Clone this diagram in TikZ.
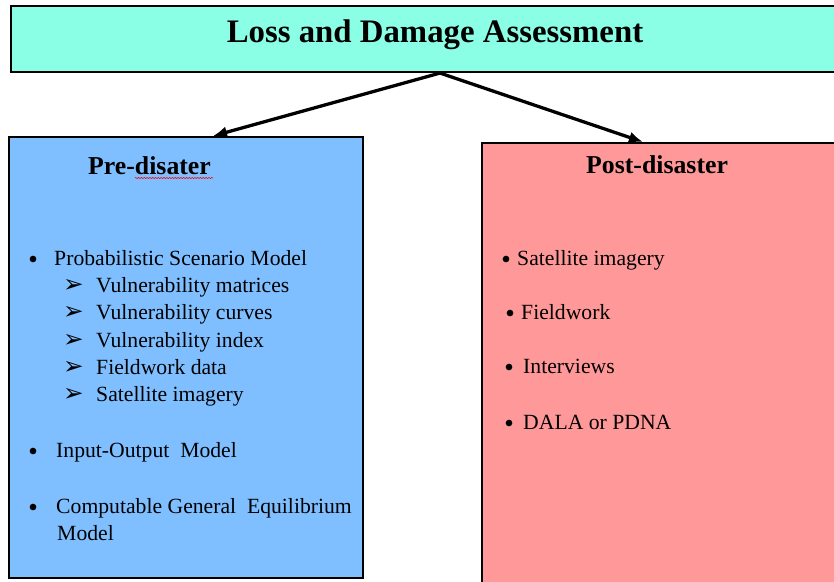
\documentclass[tikz,border=0pt]{standalone}
\usepackage{fontspec}
\setmainfont{Liberation Serif}
\newfontfamily\dingfont{DejaVu Sans}
\usetikzlibrary{arrows.meta,decorations.pathmorphing}

\tikzset{
  frame/.style={draw=black, line width=1.8pt, inner sep=0pt},
  head/.style={anchor=base west, inner sep=0pt, font=\fontsize{22}{24}\selectfont\bfseries},
  item/.style={anchor=base west, inner sep=0pt, font=\fontsize{18.5}{20}\selectfont},
  dot/.style={circle, fill=black, inner sep=0pt, minimum size=0.2cm},
  subarrow/.style={anchor=base west, inner sep=0pt, font=\dingfont\fontsize{21}{22}\selectfont},
  link/.style={->, >={Latex[length=12pt,width=10pt]}, line width=2.8pt},
}

\begin{document}
\begin{tikzpicture}[x=0.03cm,y=-0.03cm]
  \definecolor{aquabox}{RGB}{138,255,230}
  \definecolor{prefill}{RGB}{128,191,255}
  \definecolor{postfill}{RGB}{255,153,153}

  \useasboundingbox (0,0) rectangle (834,581);
  \clip (0,0) rectangle (834,581);

  %% title
  \node[frame, fill=aquabox, minimum width=25.74cm, minimum height=1.98cm] (titlebox) at (440,39) {};
  \node[anchor=base, inner sep=0pt, font=\fontsize{28}{30}\selectfont\bfseries] (titletext) at (435,42) {Loss and Damage Assessment};

  %% the two boxes
  \node[frame, fill=prefill, minimum width=10.62cm, minimum height=13.23cm] (prebox) at (186,357.5) {};
  \node[frame, fill=postfill, minimum width=12.54cm, minimum height=14.31cm] (postbox) at (691,381.5) {};

  \coordinate (fork) at (titlebox.south);
  \coordinate (preIn) at (213,136);
  \coordinate (postIn) at (643,142);
  \draw[link] (fork) -- (preIn);
  \draw[link] (fork) -- (postIn);

  %% pre-disaster side
  \node[head] (prehead) at (88,174) {Pre-disater};
  \draw[red, line width=0.5pt, decorate, decoration={snake, amplitude=0.5pt, segment length=2.4pt}] (135,178) -- (213,178);

  \node[dot] (pd1) at (33,259) {};
  \node[item] (pi1) at (54,265) {Probabilistic Scenario Model};
  \node[subarrow] (ps1) at (63,292) {➢};
  \node[item] (pt1) at (96,292) {Vulnerability matrices};
  \node[subarrow] (ps2) at (63,319) {➢};
  \node[item] (pt2) at (96,319) {Vulnerability curves};
  \node[subarrow] (ps3) at (63,347) {➢};
  \node[item] (pt3) at (96,347) {Vulnerability index};
  \node[subarrow] (ps4) at (63,374) {➢};
  \node[item] (pt4) at (96,374) {Fieldwork data};
  \node[subarrow] (ps5) at (63,401) {➢};
  \node[item] (pt5) at (96,401) {Satellite imagery};

  \node[dot] (pd2) at (33,451) {};
  \node[item] (pi2) at (56,457) {Input-Output~~Model};
  \node[dot] (pd3) at (33,507) {};
  \node[item] (pi3) at (56,513) {Computable General~~Equilibrium};
  \node[item] (pi4) at (57,540) {Model};

  %% post-disaster side
  \node[head] (posthead) at (586,173) {Post-disaster};

  \node[dot] (qd1) at (506,259) {};
  \node[item] (qi1) at (517,265) {Satellite imagery};
  \node[dot] (qd2) at (510,313) {};
  \node[item] (qi2) at (521,319) {Fieldwork};
  \node[dot] (qd3) at (509,367) {};
  \node[item] (qi3) at (523,373) {Interviews};
  \node[dot] (qd4) at (509,423) {};
  \node[item] (qi4) at (523,429) {DALA or PDNA};
\end{tikzpicture}
\end{document}
